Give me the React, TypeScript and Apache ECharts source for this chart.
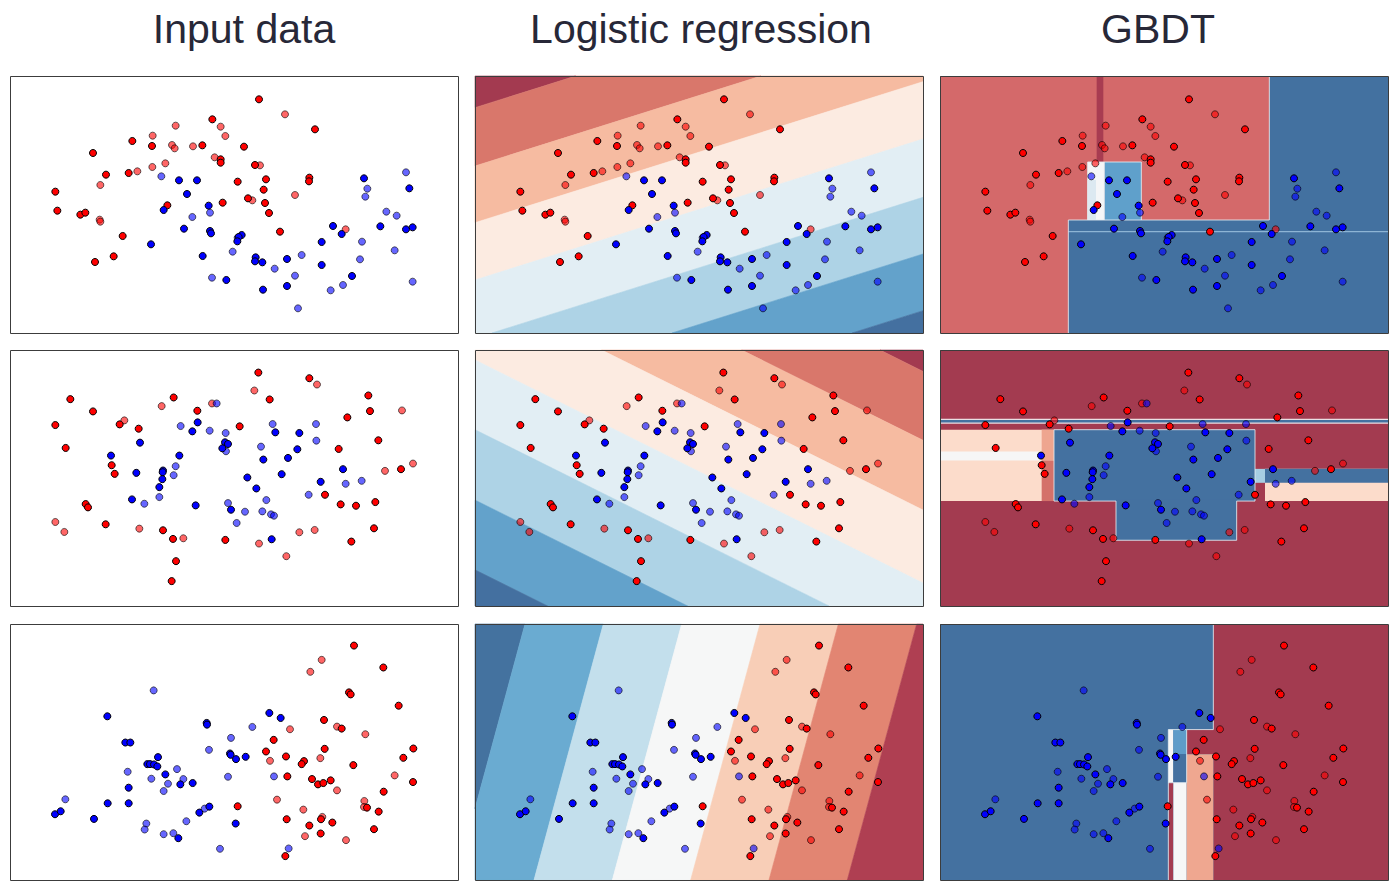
import React, { useEffect, useRef } from "react";
import * as echarts from "echarts";

const X_MAX = 134.4;
const Y_MAX = 77.1;

const titles = ["Input data", "Logistic regression", "GBDT"];
const titleCenters = [244, 701, 1158];
const colLeft = [10, 475, 940];
const rowTop = [76, 350, 624];
const rowHeight = [257, 256, 256];

// ---------- Row 1 points ----------
const r1TrainRed = [[74.7,7.0],[60.7,13.0],[91.5,16.0],[36.7,19.5],[42.6,21.0],[57.7,20.8],[70.2,21.2],[24.9,23.1],[63.2,25.0],[63.2,26.0],[73.5,26.7],[28.8,29.6],[35.6,29.1],[68.3,31.7],[76.8,31.0],[89.8,30.5],[89.7,31.6],[13.6,34.7],[76.1,34.1],[14.2,40.4],[21.1,41.6],[22.6,41.0],[47.2,38.8],[63.8,38.0],[71.4,36.7],[76.5,38.1],[77.7,41.1],[33.8,48.0],[31.1,54.1],[25.5,55.8],[81.0,46.7]];
const r1TestRed = [[82.5,11.5],[49.7,14.9],[63.2,15.2],[64.6,18.0],[42.8,17.9],[48.6,20.7],[49.4,21.7],[54.9,21.1],[61.4,24.4],[75.0,26.8],[46.6,26.2],[42.7,27.3],[38.2,28.6],[27.1,32.7],[72.7,37.3],[85.5,35.7],[26.9,43.1],[27.1,43.7],[100.7,46.0]];
const r1TrainBlue = [[50.7,31.3],[56.1,31.3],[53.1,35.4],[59.6,38.9],[46.1,40.2],[52.2,45.8],[60.0,46.5],[60.3,47.2],[42.3,50.5],[69.5,47.7],[68.6,48.3],[68.2,49.6],[57.8,54.0],[73.7,54.4],[73.5,55.6],[75.7,55.9],[64.9,61.2],[75.9,64.1],[83.1,63.0],[83.1,54.9],[93.5,49.8],[96.9,45.0],[99.5,47.4],[93.5,56.7],[102.6,60.0],[106.2,30.7],[119.8,33.7],[111.1,45.1],[118.8,46.0],[120.8,45.4]];
const r1TestBlue = [[45.4,30.1],[60.0,41.0],[54.7,42.3],[66.8,52.7],[60.6,60.5],[79.4,57.8],[87.5,53.7],[85.5,59.9],[86.4,69.7],[96.2,64.3],[99.9,62.7],[105.0,55.0],[105.6,49.7],[115.4,52.3],[120.8,61.7],[118.8,28.9],[107.2,33.8],[106.6,36.2],[112.9,40.7],[116.0,41.9],[68.3,48.5]];

// ---------- Row 2 points ----------
const r2TrainRed = [[74.5,6.8],[89.8,8.5],[18.1,14.8],[49.1,14.3],[77.9,14.9],[107.5,13.7],[24.9,18.5],[56.2,18.3],[108.0,18.4],[101.2,20.3],[13.6,22.6],[32.9,22.4],[38.6,23.7],[68.9,23.0],[16.7,29.5],[110.5,27.2],[98.6,29.8],[30.5,34.7],[31.4,37.3],[117.3,35.9],[94.5,43.6],[99.2,46.5],[103.8,46.9],[109.6,45.8],[22.7,46.4],[23.4,47.4],[28.7,52.5],[45.9,54.3],[48.9,56.9],[64.6,57.2],[109.2,53.7],[102.4,57.7],[49.8,63.6],[48.5,69.6]];
const r2TestRed = [[73.3,12.2],[92.1,10.4],[45.5,16.9],[60.6,16.1],[34.3,21.2],[117.6,18.2],[120.9,34.2],[112.5,36.4],[13.6,51.8],[16.3,54.8],[38.8,53.8],[52.0,56.7],[74.7,58.3],[86.8,54.9],[91.4,54.2],[82.9,62.1]];
const r2TrainBlue = [[56.3,21.8],[54.7,24.5],[79.6,24.8],[86.8,25.0],[39.0,27.9],[64.5,27.8],[65.4,28.3],[63.7,29.6],[30.3,31.8],[50.8,31.8],[76.0,33.0],[83.4,32.5],[86.2,29.9],[45.9,36.3],[45.8,36.8],[37.9,37.0],[45.7,38.9],[44.8,41.3],[71.2,38.4],[73.9,41.7],[81.5,37.4],[99.9,35.9],[93.2,39.7],[36.6,45.0],[55.7,46.8],[66.3,48.1],[78.5,57.0]];
const r2TestBlue = [[62.0,16.1],[51.2,22.9],[59.9,24.3],[64.7,25.0],[78.8,22.3],[91.8,22.3],[91.9,27.3],[75.3,29.1],[64.8,30.5],[49.7,35.0],[49.1,37.7],[44.8,44.3],[40.3,46.3],[65.4,46.1],[70.5,48.7],[75.7,48.6],[76.9,45.2],[78.3,49.5],[79.2,49.9],[68.0,52.1],[89.6,43.6],[100.7,40.3],[105.5,39.4]];

// ---------- Row 3 points ----------
const r3TrainRed = [[103.2,6.5],[112.0,13.1],[101.7,20.6],[102.2,21.2],[116.6,24.6],[94.2,28.9],[99.5,31.5],[79.1,34.9],[76.8,38.4],[94.4,37.6],[82.8,39.9],[88.2,41.3],[87.5,42.2],[121.0,37.5],[118.0,40.3],[103.0,42.5],[83.2,45.9],[90.6,46.7],[92.4,48.3],[94.0,47.9],[96.2,47.1],[120.9,47.6],[112.1,50.5],[107.1,55.3],[110.6,56.5],[109.2,61.8],[68.3,54.9],[83.0,58.8],[93.3,58.8],[89.8,60.7],[96.7,59.8],[93.2,63.1],[82.6,69.9]];
const r3TestRed = [[93.5,10.8],[90.1,14.4],[98.1,30.9],[106.6,33.2],[84.0,31.7],[78.0,41.2],[93.1,40.4],[115.4,45.6],[98.1,50.1],[80.1,52.9],[106.3,53.3],[106.2,55.1],[88.0,55.9],[93.7,58.1],[88.5,63.9],[100.8,65.1]];
const r3TrainBlue = [[29.2,27.8],[34.6,35.7],[36.1,35.7],[59.0,29.8],[59.1,30.3],[77.8,26.8],[81.2,28.3],[44.4,40.1],[41.2,42.2],[42.0,42.2],[43.2,42.3],[44.2,42.9],[46.6,45.3],[51.1,48.3],[54.8,47.9],[66.0,39.0],[66.2,39.4],[67.8,40.7],[70.7,40.0],[35.6,49.3],[29.3,54.0],[35.6,54.0],[13.5,57.3],[15.2,56.4],[25.2,58.7],[56.8,56.8],[59.8,55.0],[67.7,60.1],[50.5,64.5]];
const r3TestBlue = [[43.1,20.0],[72.7,31.0],[66.3,34.3],[59.7,37.9],[35.3,44.5],[42.4,46.6],[50.1,43.7],[52.0,46.7],[47.4,48.1],[46.1,50.3],[65.4,46.0],[79.2,45.9],[16.6,52.8],[58.4,55.6],[52.9,59.4],[40.9,60.1],[40.4,61.9],[46.1,63.3],[49.0,63.0],[63.0,67.7],[83.6,67.6]];

const rowPoints = [
  { trainRed: r1TrainRed, testRed: r1TestRed, trainBlue: r1TrainBlue, testBlue: r1TestBlue },
  { trainRed: r2TrainRed, testRed: r2TestRed, trainBlue: r2TrainBlue, testBlue: r2TestBlue },
  { trainRed: r3TrainRed, testRed: r3TestRed, trainBlue: r3TrainBlue, testBlue: r3TestBlue },
];

// ---------- Logistic regression contour boundaries ----------
// rows 1,2: y of each boundary at x = 0 and at x = X_MAX
const lr1Left = [9.5, 27.0, 44.0, 61.2, 78.7, 95.7, 112.7];
const lr1Right = [-32.8, -15.3, 1.7, 18.9, 36.4, 53.4, 70.4];
const lr2Left = [-60.75, -40.0, -19.0, 3.0, 24.0, 45.2, 66.2];
const lr2Right = [6.45, 27.2, 48.2, 70.2, 91.2, 112.4, 133.4];
// row 3: x of each boundary at y = 0 and at y = Y_MAX
const lr3Top = [15.0, 38.5, 62.0, 85.5, 109.0, 132.5];
const lr3Bottom = [-5.8, 17.7, 41.2, 64.7, 88.2, 111.7];

const lrColors8 = ["#A33A50", "#D9776B", "#F6BBA1", "#FCEBE1", "#E2EEF4", "#AED3E6", "#63A2CB", "#4470A0"];
const lrColors7 = ["#44729F", "#6AABD1", "#C3DFEC", "#F6F7F7", "#F8CEB7", "#E28572", "#AF3F52"];

// ---------- GBDT decision regions [x0, x1, y0, y1, colourIndex] ----------
const gb1Colors = ["#D4696A", "#4371A0", "#A83C51", "#DCE9F1", "#F5F6F7", "#5FA0CB", "#8DB4D4"];
const gb1Rects = [
  [0, 134.4, 0, 77.1, 0],
  [98.8, 134.4, 0, 77.1, 1],
  [38.5, 134.4, 43.2, 77.1, 1],
  [47.0, 49.0, 0, 25.8, 2],
  [44.3, 49.3, 25.8, 43.2, 4],
  [44.3, 46.8, 31.2, 43.2, 3],
  [49.3, 60.4, 25.8, 43.2, 5],
  [38.5, 134.4, 46.5, 46.9, 6],
];
const gb1Edges = [
  [[38.5, 77.1], [38.5, 43.2], [98.8, 43.2], [98.8, 0]],
  [[44.3, 43.2], [44.3, 25.8], [60.4, 25.8], [60.4, 43.2]],
  [[49.3, 25.8], [49.3, 43.2]],
];
const gb2Colors = ["#A33B50", "#4471A0", "#FCDCCB", "#F6F6F6", "#EEA58F", "#D4716A", "#A7CEE3", "#EADFE3"];
const gb2Rects = [
  [0, 134.4, 0, 77.1, 0],
  [0, 134.4, 20.7, 22.2, 7],
  [0, 134.4, 21.1, 21.8, 1],
  [0, 34.2, 24.0, 45.5, 2],
  [0, 30.5, 30.6, 33.3, 3],
  [30.5, 34.2, 24.0, 33.3, 4],
  [30.5, 34.2, 33.3, 45.5, 5],
  [34.2, 94.5, 24.0, 45.5, 1],
  [52.8, 89.0, 45.0, 57.3, 1],
  [94.5, 97.5, 35.8, 40.0, 6],
  [97.5, 134.4, 35.8, 45.5, 2],
  [97.5, 134.4, 35.8, 40.0, 1],
];
const gb2Edges = [
  [[34.2, 24.0], [94.5, 24.0], [94.5, 45.5], [89.0, 45.5], [89.0, 57.3], [52.8, 57.3], [52.8, 45.5], [34.2, 45.5], [34.2, 24.0]],
];
const gb3Colors = ["#A33B50", "#4471A0", "#F6F7F7", "#5E9CC9", "#EFA790"];
const gb3Rects = [
  [0, 134.4, 0, 77.1, 1],
  [82.0, 134.4, 0, 77.1, 0],
  [74.0, 82.5, 31.8, 39.2, 0],
  [68.5, 70.0, 31.8, 47.8, 2],
  [70.0, 74.0, 31.8, 39.2, 3],
  [70.0, 74.0, 39.2, 47.8, 1],
  [68.5, 70.0, 47.8, 77.1, 0],
  [70.0, 74.0, 47.8, 77.1, 2],
  [74.0, 82.0, 39.2, 77.1, 4],
];
const gb3Edges = [
  [[82.0, 0], [82.0, 31.8], [74.0, 31.8]],
  [[68.5, 77.1], [68.5, 31.8], [74.0, 31.8], [74.0, 47.8], [68.5, 47.8]],
];
const gbRows = [
  { rects: gb1Rects, colors: gb1Colors, edges: gb1Edges },
  { rects: gb2Rects, colors: gb2Colors, edges: gb2Edges },
  { rects: gb3Rects, colors: gb3Colors, edges: gb3Edges },
];

type Pt = number[];

function clipHalf(poly: Pt[], P1: Pt, P2: Pt, sign: number): Pt[] {
  const f = (p: Pt) => ((P2[0] - P1[0]) * (p[1] - P1[1]) - (P2[1] - P1[1]) * (p[0] - P1[0])) * sign;
  const out: Pt[] = [];
  for (let i = 0; i < poly.length; i++) {
    const a = poly[i];
    const b = poly[(i + 1) % poly.length];
    const fa = f(a);
    const fb = f(b);
    if (fa >= 0) out.push(a);
    if ((fa >= 0) !== (fb >= 0)) {
      const t = fa / (fa - fb);
      out.push([a[0] + t * (b[0] - a[0]), a[1] + t * (b[1] - a[1])]);
    }
  }
  return out;
}

function bandPolygons(lines: Pt[][]): Pt[][] {
  const box: Pt[] = [[0, 0], [X_MAX, 0], [X_MAX, Y_MAX], [0, Y_MAX]];
  const n = lines.length;
  const L0 = lines[0];
  const fL1 = (L0[1][0] - L0[0][0]) * (lines[1][0][1] - L0[0][1]) - (L0[1][1] - L0[0][1]) * (lines[1][0][0] - L0[0][0]);
  const s = fL1 >= 0 ? 1 : -1;
  const polys: Pt[][] = [];
  for (let k = 0; k <= n; k++) {
    let p = box.slice();
    if (k > 0) p = clipHalf(p, lines[k - 1][0], lines[k - 1][1], s);
    if (k < n) p = clipHalf(p, lines[k][0], lines[k][1], -s);
    polys.push(p);
  }
  return polys;
}

const lrRows = [
  { polys: bandPolygons(lr1Left.map((v, i) => [[0, v], [X_MAX, lr1Right[i]]])), colors: lrColors8 },
  { polys: bandPolygons(lr2Left.map((v, i) => [[0, v], [X_MAX, lr2Right[i]]])), colors: lrColors8 },
  { polys: bandPolygons(lr3Top.map((v, i) => [[v, 0], [lr3Bottom[i], Y_MAX]])), colors: lrColors7 },
];

function buildOption() {
  const grid: any[] = [];
  const xAxis: any[] = [];
  const yAxis: any[] = [];
  const series: any[] = [];
  const graphic: any[] = [];

  for (let r = 0; r < 3; r++) {
    for (let c = 0; c < 3; c++) {
      const gi = r * 3 + c;
      grid.push({ left: colLeft[c], top: rowTop[r], width: 448, height: rowHeight[r], show: true, backgroundColor: "#ffffff", borderWidth: 0 });
      xAxis.push({ gridIndex: gi, type: "value", min: 0, max: X_MAX, show: false });
      yAxis.push({ gridIndex: gi, type: "value", min: 0, max: Y_MAX, inverse: true, show: false });

      if (c === 1) {
        const lr = lrRows[r];
        series.push({
          type: "custom",
          xAxisIndex: gi,
          yAxisIndex: gi,
          z: 1,
          silent: true,
          data: lr.polys.map(() => [0, 0]),
          renderItem: (params: any, api: any) => {
            const poly = lr.polys[params.dataIndex];
            if (!poly || poly.length < 3) return null;
            const col = lr.colors[params.dataIndex];
            return {
              type: "polygon",
              shape: { points: poly.map((p) => api.coord(p)) },
              style: { fill: col, stroke: col, lineWidth: 0.6 },
            };
          },
        });
      }
      if (c === 2) {
        const gb = gbRows[r];
        series.push({
          type: "custom",
          xAxisIndex: gi,
          yAxisIndex: gi,
          z: 1,
          silent: true,
          data: gb.rects.map(() => [0, 0]),
          renderItem: (params: any, api: any) => {
            const rc = gb.rects[params.dataIndex];
            const p0 = api.coord([rc[0], rc[2]]);
            const p1 = api.coord([rc[1], rc[3]]);
            return {
              type: "rect",
              shape: {
                x: Math.min(p0[0], p1[0]),
                y: Math.min(p0[1], p1[1]),
                width: Math.abs(p1[0] - p0[0]),
                height: Math.abs(p1[1] - p0[1]),
              },
              style: { fill: gb.colors[rc[4]] },
            };
          },
        });
        series.push({
          type: "custom",
          xAxisIndex: gi,
          yAxisIndex: gi,
          z: 2,
          silent: true,
          data: gb.edges.map(() => [0, 0]),
          renderItem: (params: any, api: any) => {
            const pl = gb.edges[params.dataIndex];
            return {
              type: "polyline",
              shape: { points: pl.map((p) => api.coord(p)) },
              style: { fill: null, stroke: "#E4ECF2", lineWidth: 1, opacity: 0.85 },
            };
          },
        });
      }

      const pts = rowPoints[r];
      const mk = (data: number[][], color: string, opacity: number) => ({
        type: "scatter",
        xAxisIndex: gi,
        yAxisIndex: gi,
        z: 3,
        symbol: "circle",
        symbolSize: 7,
        silent: true,
        data,
        itemStyle: { color, opacity, borderColor: "#000000", borderWidth: 1 },
      });
      series.push(mk(pts.testRed, "#FF0000", 0.6));
      series.push(mk(pts.testBlue, "#0000FF", 0.6));
      series.push(mk(pts.trainRed, "#FF0000", 1));
      series.push(mk(pts.trainBlue, "#0000FF", 1));

      graphic.push({
        type: "rect",
        z: 100,
        silent: true,
        shape: { x: colLeft[c] + 0.5, y: rowTop[r] + 0.5, width: 448, height: rowHeight[r] },
        style: { fill: "none", stroke: "#3c3c3c", lineWidth: 1 },
      });
    }
  }

  titles.forEach((t, i) => {
    graphic.push({
      type: "text",
      x: titleCenters[i],
      y: 29,
      z: 100,
      silent: true,
      style: {
        text: t,
        fontSize: 41,
        fontFamily: "'Liberation Sans', Arial, sans-serif",
        fill: "#272838",
        textAlign: "center",
        textVerticalAlign: "middle",
        align: "center",
        verticalAlign: "middle",
      },
    });
  });

  return { animation: false, backgroundColor: "#ffffff", grid, xAxis, yAxis, series, graphic };
}

export default function App() {
  const ref = useRef<HTMLDivElement>(null);
  useEffect(() => {
    const chart = echarts.init(ref.current!, null, { renderer: "svg" });
    chart.setOption(buildOption() as any);
    return () => chart.dispose();
  }, []);
  return <div ref={ref} style={{ position: "absolute", left: 0, top: 0, width: 1400, height: 892 }} />;
}
